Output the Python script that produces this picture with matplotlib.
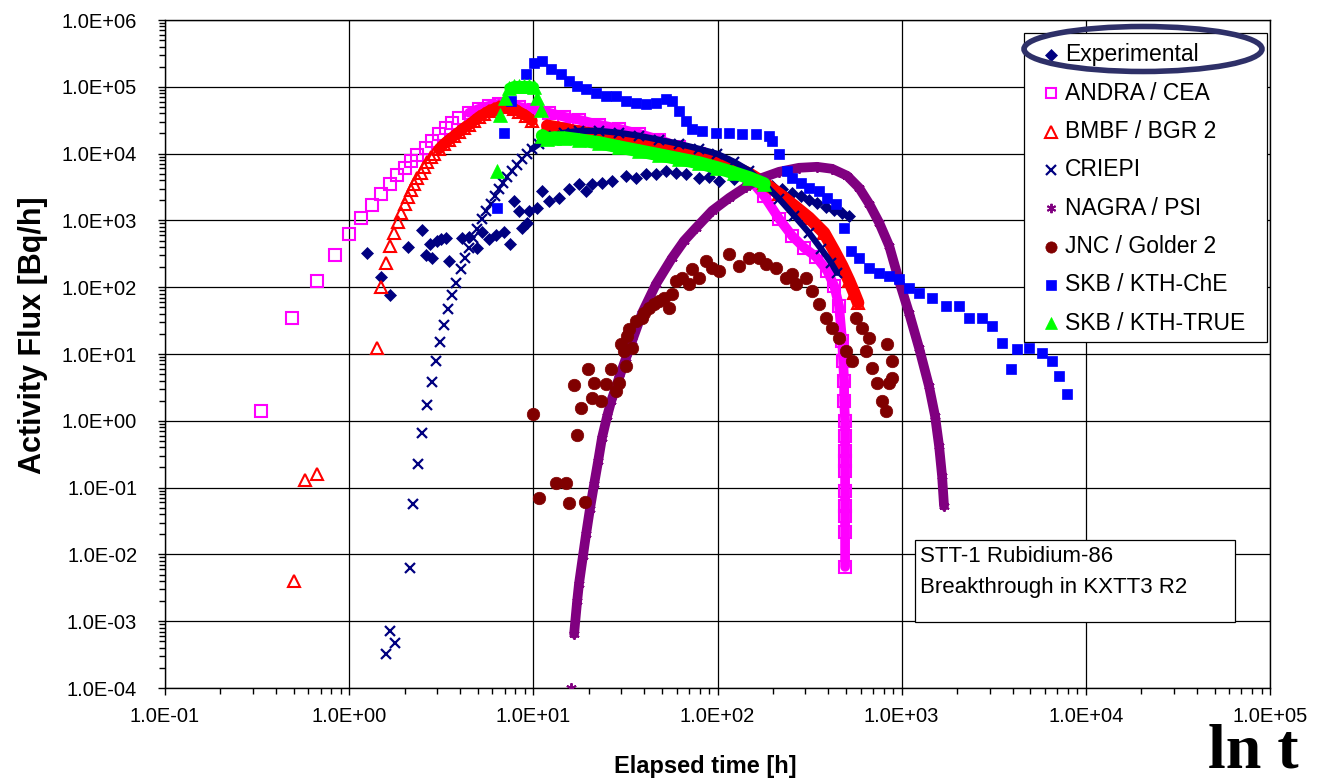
import numpy as np
import matplotlib
matplotlib.use("Agg")
import matplotlib.pyplot as plt
from matplotlib.ticker import LogLocator, FuncFormatter, NullFormatter
from matplotlib.lines import Line2D
from matplotlib.patches import Rectangle, Ellipse

plt.rcParams['font.family'] = ['Liberation Sans', 'DejaVu Sans']

# ---------------- data (elapsed time [h], activity flux [Bq/h]) ----------------
exp_t = [1.25, 1.49, 1.67, 2.09, 2.49, 2.62, 2.75, 2.82, 3.00, 3.16, 3.36, 3.49, 4.11, 4.48, 4.95,
         5.27, 5.75, 6.28, 6.94, 7.48, 7.87, 8.37, 8.70, 9.26, 9.49, 10.5, 11.2, 12.2, 13.8, 15.6,
         17.7, 19.4, 20.9, 23.6, 26.8, 31.9, 36.2, 41.0, 46.4, 52.6, 59.6, 67.6, 79.4, 90.0, 102,
         123, 149, 173, 198, 224, 254, 284, 314, 347, 389, 430, 475, 518]
exp_q = [327, 143, 77, 403, 723, 306, 446, 275, 495, 531, 549, 248, 549, 568, 389,
         675, 531, 609, 675, 446, 1965, 1393, 775, 921, 1393, 1545, 2775, 1965, 2180, 2972,
         3530, 2775, 3530, 3655, 3918, 4655, 4340, 4990, 4990, 5530, 5160, 4990, 4340, 4495, 3918,
         4200, 3918, 3655, 3296, 2972, 2590, 2336, 2034, 1834, 1600, 1442, 1300, 1172]

andra_t = [0.333, 0.490, 0.670, 0.839, 1.00, 1.16, 1.33, 1.49, 1.67, 1.82, 2.01, 2.17, 2.34, 2.62, 2.82,
           3.08, 3.36, 3.63, 3.96, 4.48, 5.08, 5.76, 6.52, 7.39, 8.37, 10.1, 12.2, 14.7, 17.7, 22.8,
           29.2, 37.5, 48.2, 61.9, 79.4, 99.5, 123, 149, 179, 216, 254, 295, 343, 394, 430,
           457, 475, 481, 487, 487, 493, 493, 493, 493, 493, 493, 493, 493, 493, 493]
andra_q = [1.41, 34.8, 125, 306, 630, 1094, 1713, 2500, 3530, 4820, 6130, 7800, 9600, 12200, 15550,
           19800, 24300, 28900, 34400, 40800, 46900, 52000, 55700, 53800, 50200, 45300, 40800, 35600, 32100, 27000,
           23500, 19800, 16100, 12600, 9930, 7800, 5920, 4200, 2330, 1057, 588, 390, 285, 176, 105,
           52.7, 15.8, 7.9, 3.97, 1.99, 1.0, 0.596, 0.356, 0.252, 0.178, 0.0896, 0.0534, 0.0378, 0.0218, 0.0065]

bmbf_t = [0.503, 0.577, 0.670, 1.42, 1.49, 1.59, 1.67, 1.76, 1.85, 1.92, 2.01, 2.09, 2.17, 2.25, 2.34,
          2.46, 2.55, 2.65, 2.79, 2.89, 3.08, 3.28, 3.49, 3.72, 3.96, 4.21, 4.48, 4.77, 5.08, 5.41,
          5.76, 6.13, 6.52, 6.94, 7.39, 7.87, 8.37, 9.14, 9.85, 11.9, 13.8, 17.7, 22.8, 29.2, 37.5,
          48.2, 61.9, 79.4, 99.5, 123, 149, 179, 216, 261, 314, 379, 430, 475, 518, 552, 580]
bmbf_q = [0.00403, 0.131, 0.161, 12.4, 101, 232, 417, 652, 953, 1300, 1773, 2255, 2870, 3530, 4340,
          5160, 6340, 7540, 8960, 9930, 11800, 14000, 16100, 18500, 21200, 24300, 27000, 31000, 35600, 39400,
          43700, 46900, 50200, 52000, 50200, 46900, 42200, 36800, 31000, 26100, 24300, 21200, 19100, 17200, 15000,
          13100, 11400, 9600, 8080, 6340, 4990, 3660, 2500, 1655, 1094, 652, 351, 209, 125, 82.4, 58.4]

criepi_t = [1.59, 1.67, 1.78, 2.14, 2.23, 2.37, 2.49, 2.65, 2.82, 2.97, 3.12, 3.28, 3.45, 3.63, 3.81,
            4.06, 4.27, 4.48, 4.71, 4.95, 5.27, 5.54, 5.90, 6.20, 6.52, 6.86, 7.21, 7.67, 8.17, 8.70,
            9.26, 9.85, 10.75, 11.74, 12.97, 14.7, 17.7, 22.8, 29.2, 37.5, 48.2, 61.9, 79.4, 99.5, 123,
            149, 179, 216, 261, 314, 365, 414, 446]
criepi_q = [0.000325, 0.000718, 0.000475, 0.0063, 0.0572, 0.227, 0.661, 1.74, 3.84, 7.91, 15.2, 27.4, 47.5, 76.9, 116,
            189, 275, 389, 549, 749, 1057, 1393, 1773, 2336, 2972, 3655, 4495, 5530, 6800, 8360,
            9930, 11800, 14000, 16100, 18500, 20500, 21900, 21900, 20500, 18500, 16100, 14000, 11800, 9930, 7540,
            5530, 3530, 2105, 1172, 652, 376, 232, 164]

nagra_t = [16.0, 16.65, 17.3, 17.7, 18.6, 19.35, 20.3, 21.4, 22.5, 23.6, 25.2, 26.5, 29.2, 31.9, 34.4,
           39.0, 46.4, 56.7, 65.9, 76.5, 93.5, 116, 143, 175, 216, 277, 347, 419, 506, 587,
           666, 755, 855, 968, 1096, 1242, 1406, 1517, 1596, 1657, 1698]
nagra_q = [0.0001, 0.000648, 0.00202, 0.00363, 0.00953, 0.0203, 0.0482, 0.114, 0.252, 0.557, 1.19, 1.99, 4.4, 8.77, 15.8,
           41.4, 112, 275, 495, 775, 1393, 2180, 3185, 4340, 5340, 6130, 6340, 5920, 4650, 3075,
           1773, 921, 417, 125, 41.4, 12.4, 3.34, 1.19, 0.422, 0.150, 0.0534]

jnc_t = [9.97, 10.75, 13.3, 15.1, 15.6, 16.65, 17.3, 18.2, 19.1, 19.8, 20.9, 21.4, 23.4, 24.8, 26.4,
         28.2, 29.2, 30.0, 31.1, 31.9, 32.3, 33.1, 34.4, 36.2, 39.0, 40.0, 42.5, 45.3, 48.2, 51.3,
         54.6, 56.7, 59.6, 64.3, 70.1, 72.8, 79.4, 86.7, 93.5, 102, 116, 131, 149, 168, 184,
         208, 236, 254, 267, 303, 326, 356, 389, 419, 457, 499, 538, 565, 609, 641,
         666, 691, 735, 783, 823, 834, 855, 888, 888]
jnc_q = [1.27, 0.0704, 0.118, 0.118, 0.0592, 3.46, 0.617, 1.57, 0.0613, 6.0, 2.21, 3.71, 1.99, 3.58, 6.0,
         2.81, 3.71, 14.2, 11.2, 6.66, 18.7, 23.8, 12.4, 31.4, 34.8, 41.4, 49.2, 56.4, 62.6, 69.4,
         49.2, 79.7, 125, 138, 112, 189, 138, 248, 195, 176, 316, 209, 275, 275, 224,
         195, 138, 159, 112, 138, 88.3, 56.4, 34.8, 24.7, 17.5, 11.2, 7.91, 34.8, 24.7, 11.2,
         17.5, 6.21, 3.71, 1.99, 1.41, 14.2, 3.71, 7.91, 4.4]

che_t = [6.36, 6.94, 7.58, 9.14, 10.1, 11.2, 12.5, 14.2, 15.6, 17.3, 19.4, 21.9, 24.8, 28.2, 31.9,
         36.2, 41.0, 46.4, 52.6, 56.7, 61.9, 67.6, 72.8, 82.5, 98.2, 116, 136, 162, 191, 198,
         216, 239, 254, 284, 314, 356, 394, 440, 487, 531, 587, 666, 754, 855, 968,
         1096, 1242, 1461, 1742, 2047, 2322, 2733, 3097, 3510, 3926, 4236, 4920, 5785, 6560, 7160, 7910]
che_q = [1545, 20500, 61700, 156600, 228600, 245000, 186000, 156600, 123000, 103500, 93300, 81300, 73300, 73300, 61700,
         57600, 55700, 57600, 66100, 61700, 43700, 31000, 23500, 21900, 20500, 20500, 19800, 19800, 18500, 15500,
         9930, 5530, 4340, 3655, 3075, 2775, 2180, 1773, 775, 351, 275, 195, 164, 148, 134,
         98, 82.4, 69.4, 52.7, 52.7, 34.8, 34.8, 26.4, 14.7, 6.0, 12.0, 12.4, 10.4, 7.91, 4.72, 2.54]

true_t = [6.36, 6.60, 7.03, 7.39, 7.87, 8.37, 8.91, 9.49, 10.1, 10.5, 11.0, 11.2, 11.9, 13.0, 14.7,
          17.7, 22.8, 29.2, 37.5, 48.2, 61.9, 79.4, 99.5, 123, 149, 179]
true_q = [5530, 38100, 68400, 96600, 103500, 103500, 103500, 103500, 100000, 68400, 45300, 18500, 16700, 17200, 17200,
          16100, 14500, 12600, 11000, 9600, 8360, 7280, 6130, 5160, 4340, 3530]

labels = ['Experimental', 'ANDRA / CEA', 'BMBF / BGR 2', 'CRIEPI', 'NAGRA / PSI',
          'JNC / Golder 2', 'SKB / KTH-ChE', 'SKB / KTH-TRUE']
x_ticks = [1e-1, 1e0, 1e1, 1e2, 1e3, 1e4, 1e5]
y_ticks = [1e-4, 1e-3, 1e-2, 1e-1, 1e0, 1e1, 1e2, 1e3, 1e4, 1e5, 1e6]

# ---------------- styles ----------------
styles = [
    dict(marker='D', color='#000080', ms=6.3, mfc='#000080', mew=0.5),
    dict(marker='s', color='#FF00FF', ms=8.3, mfc='none', mew=1.5),
    dict(marker='^', color='#FF0000', ms=9.0, mfc='none', mew=1.5),
    dict(marker='x', color='#000080', ms=7.5, mfc='#000080', mew=1.6),
    dict(marker=(6, 2, 0), color='#800080', ms=7.5, mfc='#800080', mew=1.4),
    dict(marker='o', color='#800000', ms=9.0, mfc='#800000', mew=0.5),
    dict(marker='s', color='#0000FF', ms=7.8, mfc='#0000FF', mew=0.5),
    dict(marker='^', color='#00FF00', ms=9.5, mfc='#00FF00', mew=0.5),
]
series = [(exp_t, exp_q), (andra_t, andra_q), (bmbf_t, bmbf_q), (criepi_t, criepi_q),
          (nagra_t, nagra_q), (jnc_t, jnc_q), (che_t, che_q), (true_t, true_q)]
# dense stretches drawn as a continuous band: (series index, start, end, width)
bands = [(1, 19, None, 7.0), (2, 20, 39, 8.0), (2, 39, None, 9.0), (3, 31, None, 4.5),
         (4, 1, None, 7.0), (7, 11, None, 9.5), (7, 3, 9, 7.0)]

W, H = 1331, 783
fig = plt.figure(figsize=(W / 100, H / 100), dpi=100)
ax = fig.add_axes([165 / W, 1 - 688 / H, (1270 - 165) / W, (688 - 20) / H])
ax.set_xscale('log')
ax.set_yscale('log')
ax.set_xlim(1e-1, 1e5)
ax.set_ylim(1e-4, 1e6)

for i, ((t, q), st) in enumerate(zip(series, styles)):
    z = 3 + i * 0.1
    for (si, a, b, lw) in bands:
        if si == i:
            ax.plot(t[a:b], q[a:b], '-', color=st['color'], lw=lw, zorder=z,
                    solid_capstyle='round', solid_joinstyle='round')
    ax.plot(t, q, linestyle='none', marker=st['marker'], color=st['color'], ms=st['ms'],
            mfc=st['mfc'], mec=st['color'], mew=st['mew'], zorder=z + 0.01, label=labels[i])

# axes styling
ax.set_xticks(x_ticks)
ax.set_yticks(y_ticks)
fmt = FuncFormatter(lambda v, p: f'{v:.1E}')
ax.xaxis.set_major_formatter(fmt)
ax.yaxis.set_major_formatter(fmt)
ax.xaxis.set_minor_locator(LogLocator(base=10, subs=np.arange(2, 10), numticks=30))
ax.yaxis.set_minor_locator(LogLocator(base=10, subs=np.arange(2, 10), numticks=30))
ax.xaxis.set_minor_formatter(NullFormatter())
ax.yaxis.set_minor_formatter(NullFormatter())
ax.tick_params(axis='both', which='major', direction='out', length=5, width=1, color='black',
               labelsize=14.5)
ax.tick_params(axis='both', which='minor', direction='out', length=4, width=1, color='black')
ax.tick_params(axis='x', which='major', pad=9)
ax.tick_params(axis='y', which='major', pad=15)
ax.grid(True, which='major', color='black', lw=0.9)
ax.set_axisbelow(True)
for sp in ax.spines.values():
    sp.set_color('black')
    sp.set_linewidth(1.0)

fig.text(705 / W, 1 - 767 / H, 'Elapsed time [h]', ha='center', va='center',
         fontsize=17, fontweight='bold')
fig.text(33 / W, 1 - 335 / H, 'Activity Flux [Bq/h]', ha='center', va='center',
         rotation=90, fontsize=22, fontweight='bold')

# legend (drawn by hand to match the original layout)
fig.add_artist(Rectangle((1024 / W, 1 - 342 / H), (1267 - 1024) / W, (342 - 33) / H,
                         transform=fig.transFigure, facecolor='white', edgecolor='black',
                         lw=0.9, zorder=10))
for i, st in enumerate(styles):
    yy = 1 - (55 + i * 38.3) / H
    fig.add_artist(Line2D([1051 / W], [yy], transform=fig.transFigure, linestyle='none',
                          marker=st['marker'], color=st['color'], ms=st['ms'] * 0.9,
                          mfc=st['mfc'], mec=st['color'], mew=st['mew'], zorder=11))
    fig.text(1065 / W, yy, labels[i], ha='left', va='center', fontsize=16.5, zorder=11)

fig.add_artist(Ellipse((1143 / W, 1 - 49 / H), 238 / W, 45 / H, transform=fig.transFigure,
                       facecolor='none', edgecolor='#2E3068', lw=4, zorder=12))

# annotation box
fig.add_artist(Rectangle((915 / W, 1 - 622 / H), (1235 - 915) / W, (622 - 540) / H,
                         transform=fig.transFigure, facecolor='white', edgecolor='black',
                         lw=0.9, zorder=10))
fig.text(920 / W, 1 - 556 / H, 'STT-1 Rubidium-86', ha='left', va='center', fontsize=16, zorder=11)
fig.text(920 / W, 1 - 587 / H, 'Breakthrough in KXTT3 R2', ha='left', va='center', fontsize=16,
         zorder=11)

fig.text(1253 / W, 1 / H, 'ln t', ha='center', va='bottom', fontsize=46, fontweight='bold',
         family='Liberation Serif')

fig.savefig('out.png', dpi=100)
